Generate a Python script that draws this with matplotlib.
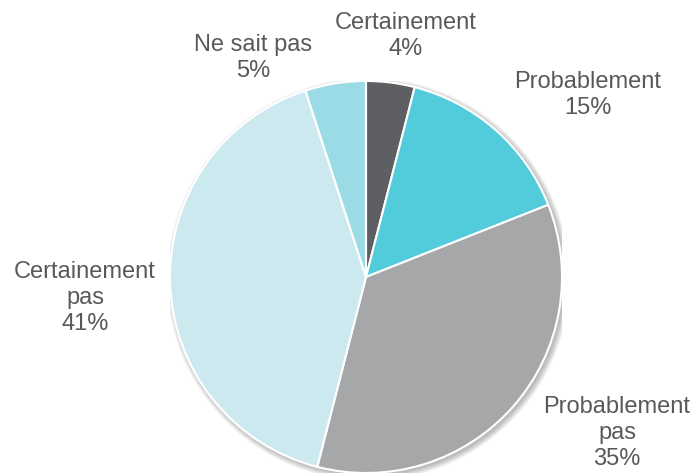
import matplotlib
matplotlib.use("Agg")
import matplotlib.pyplot as plt
from matplotlib.patches import Circle

# data
categories = ["Certainement", "Probablement", "Probablement pas", "Certainement pas", "Ne sait pas"]
values = [4, 15, 35, 41, 5]
label_text = ["Certainement\n4%", "Probablement\n15%", "Probablement\npas\n35%",
              "Certainement\npas\n41%", "Ne sait pas\n5%"]
colors = ["#5e5f63", "#52cbdb", "#a6a7a9", "#cde9f0", "#9bdbe5"]

# label centres in pixels (x, y from top)
label_pos = [(406, 36), (588, 95), (617, 433), (85, 298), (253, 58)]

plt.rcParams["font.family"] = ["Liberation Sans", "DejaVu Sans"]

W, H = 698, 476
fig = plt.figure(figsize=(W / 100, H / 100), dpi=100)
fig.patch.set_facecolor("white")

cx, cy, r = 366, 277, 196
ax = fig.add_axes([(cx - r) / W, (H - cy - r) / H, 2 * r / W, 2 * r / H])
ax.set_xlim(-1, 1)
ax.set_ylim(-1, 1)
ax.set_aspect("equal")
ax.axis("off")

# soft shadow behind the pie
for i in range(8):
    ax.add_patch(Circle((0.012, -0.012), 1.0 + 0.004 * i, color="black",
                        alpha=0.035, lw=0, zorder=0))

ax.pie(values, colors=colors, startangle=90, counterclock=False, radius=1.0,
       wedgeprops=dict(edgecolor="white", linewidth=1.5, zorder=2))
ax.set_xlim(-1, 1)
ax.set_ylim(-1, 1)

for txt, (px, py) in zip(label_text, label_pos):
    fig.text(px / W, 1 - py / H, txt, ha="center", va="center",
             fontsize=17, color="#595959", linespacing=1.22,
             multialignment="center")

fig.savefig("out.png", dpi=100)
